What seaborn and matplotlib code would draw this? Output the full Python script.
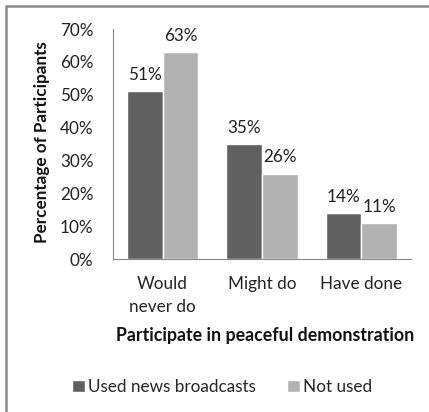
import matplotlib
matplotlib.use("Agg")
import matplotlib.pyplot as plt
import seaborn as sns
import pandas as pd
from matplotlib.patches import Rectangle, Patch

categories = ["Would\nnever do", "Might do", "Have done"]
series_names = ["Used news broadcasts", "Not used"]
used_news = [51, 35, 14]
not_used = [63, 26, 11]
yticks = [0, 10, 20, 30, 40, 50, 60, 70]

df = pd.DataFrame({
    "category": categories * 2,
    "series": [series_names[0]] * 3 + [series_names[1]] * 3,
    "value": used_news + not_used,
})

sns.set_theme(style="white")
plt.rcParams["font.family"] = ["Lato", "DejaVu Sans"]

FS = 12.3
W, H = 429, 412
fig = plt.figure(figsize=(W / 100, H / 100), dpi=100)
ax = fig.add_axes([113 / W, 1 - 259 / H, 298 / W, (259 - 29) / H])

colors = ["#606060", "#b2b2b2"]
sns.barplot(data=df, x="category", y="value", hue="series", palette=colors,
            width=0.72, gap=0, ax=ax, legend=False, saturation=1)

for cont in ax.containers:
    ax.bar_label(cont, labels=[f"{v:.0f}%" for v in cont.datavalues],
                 padding=6, fontsize=FS, color="#222222")

ax.set_ylim(0, 70)
ax.set_yticks(yticks)
ax.set_yticklabels([f"{t}%" for t in yticks], fontsize=FS, color="#222222")
ax.tick_params(axis="x", labelsize=FS, colors="#222222", length=0, pad=12)
for lbl in ax.get_xticklabels():
    lbl.set_linespacing(1.6)
ax.tick_params(axis="y", length=0, pad=14)
for s in ["top", "right"]:
    ax.spines[s].set_visible(False)
for s in ["left", "bottom"]:
    ax.spines[s].set_color("#888888")
    ax.spines[s].set_linewidth(0.8)
ax.set_xlim(-0.5, 2.5)

ax.set_xlabel("Participate in peaceful demonstration", fontsize=12.8,
              fontweight="bold", color="#111111", va="center")
ax.set_ylabel("Percentage of Participants", fontsize=12.3,
              fontweight="bold", color="#111111", va="center")
ax.xaxis.set_label_coords((265 - 113) / 298, -(335 - 259) / (259 - 29))
ax.yaxis.set_label_coords(-(113 - 42) / 298, (259 - 142) / (259 - 29))

handles = [Patch(facecolor=colors[0], label=series_names[0]),
           Patch(facecolor=colors[1], label=series_names[1])]
fig.legend(handles=handles, loc="center", bbox_to_anchor=(222 / W, 1 - 387 / H),
           ncol=2, frameon=False, fontsize=FS, handlelength=0.75,
           handleheight=0.75, handletextpad=0.2, columnspacing=1.8,
           borderaxespad=0, borderpad=0)

fig.patches.append(Rectangle((5.5 / W, -0.1), 1.2, 1 - 5.5 / H + 0.1,
                             transform=fig.transFigure, fill=False,
                             edgecolor="#8a8a8a", linewidth=1.8))

fig.savefig("out.png", dpi=100)
